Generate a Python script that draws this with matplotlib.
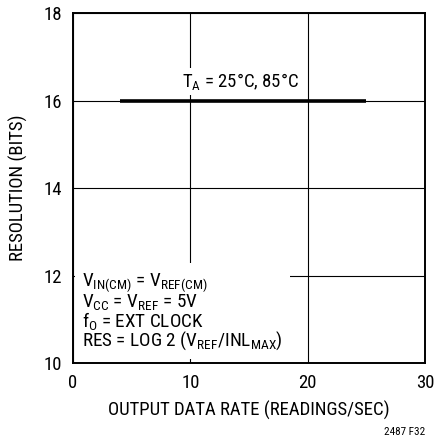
import matplotlib
matplotlib.use("Agg")
import matplotlib.pyplot as plt

plt.rcParams['font.family'] = ['Roboto Condensed', 'Roboto', 'DejaVu Sans']
plt.rcParams['mathtext.fontset'] = 'custom'
plt.rcParams['mathtext.rm'] = 'Roboto Condensed'
plt.rcParams['mathtext.it'] = 'Roboto Condensed'

# resolution vs output data rate
rate = [4, 25]
bits = [16, 16]

xticks = [0, 10, 20, 30]
yticks = [10, 12, 14, 16, 18]

FS = 13.5

fig = plt.figure(figsize=(4.35, 4.38), dpi=100)
ax = fig.add_axes([0.168, 0.171, 0.809, 0.799])

ax.plot(rate, bits, color='black', lw=2.6, solid_capstyle='butt', zorder=4)

ax.set_xlim(0, 30)
ax.set_ylim(10, 18)
ax.set_xticks(xticks)
ax.set_yticks(yticks)
ax.tick_params(length=0, labelsize=FS, pad=8)
ax.grid(True, color='black', lw=0.8)
ax.set_axisbelow(True)
for s in ax.spines.values():
    s.set_linewidth(1.4)

ax.set_xlabel("OUTPUT DATA RATE (READINGS/SEC)", fontsize=FS, labelpad=6)
ax.set_ylabel("RESOLUTION (BITS)", fontsize=FS, labelpad=11)

ax.text(9.3, 16.2, r"T$_\mathrm{A}$ = 25°C, 85°C", fontsize=FS,
        ha='left', va='bottom', zorder=3,
        bbox=dict(facecolor='white', edgecolor='none', pad=2))

note = ("V$_\\mathrm{IN(CM)}$ = V$_\\mathrm{REF(CM)}$\n"
        "V$_\\mathrm{CC}$ = V$_\\mathrm{REF}$ = 5V\n"
        "f$_\\mathrm{O}$ = EXT CLOCK\n"
        "RES = LOG 2 (V$_\\mathrm{REF}$/INL$_\\mathrm{MAX}$)")
ax.text(0.77, 12.1, note, fontsize=13.8, ha='left', va='top',
        linespacing=0.88, zorder=3,
        bbox=dict(facecolor='white', edgecolor='none', pad=5))

fig.text(0.977, 0.003, "2487 F32", fontsize=8, ha='right', va='bottom')

fig.savefig("out.png", dpi=100)
